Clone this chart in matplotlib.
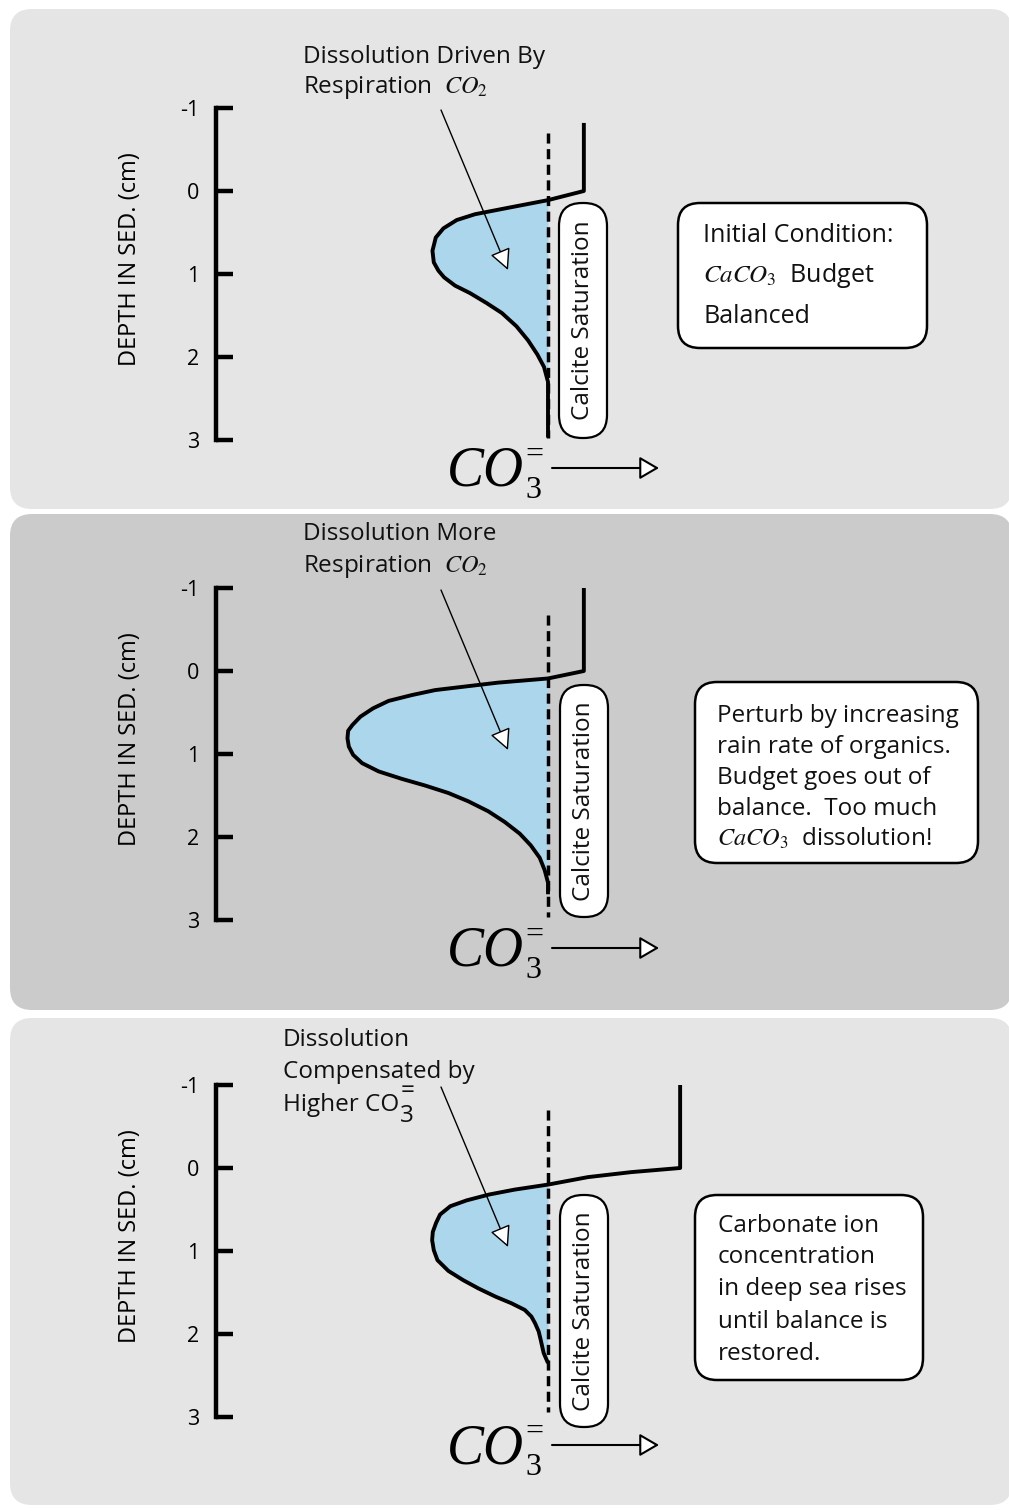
"""Carbonate ion profiles in sediment: initial, perturbed and compensated states."""

import matplotlib
matplotlib.use("Agg")
import matplotlib.pyplot as plt
from matplotlib.patches import FancyArrowPatch, FancyBboxPatch
import numpy as np

plt.rcParams["font.family"] = ["Open Sans", "DejaVu Sans"]
plt.rcParams["mathtext.fontset"] = "stix"

W, H = 1009, 1511
X0_PX, PX_PER_UNIT, PX_PER_CM = 216, 332, 83

DEPTH_TICKS = [-1, 0, 1, 2, 3]
DEPTH_LABELS = ["-1", "0", "1", "2", "3"]
SATURATION = 1.0

# CO3= concentration (saturation = 1) against depth in sediment (cm)
P1_CONC = [1.108, 1.108, 1.0, 0.87, 0.78, 0.725, 0.685, 0.662, 0.652, 0.656, 0.670,
           0.687, 0.72, 0.765, 0.815, 0.861, 0.905, 0.94, 0.968, 0.988, 1.0, 1.0]
P1_DEPTH = [-0.82, 0.0, 0.11, 0.21, 0.28, 0.35, 0.45, 0.56, 0.72, 0.86, 0.96,
            1.04, 1.14, 1.23, 1.35, 1.47, 1.63, 1.80, 1.97, 2.12, 2.30, 2.97]

P2_CONC = [1.108, 1.108, 1.0, 0.85, 0.744, 0.66, 0.59, 0.52, 0.473, 0.435, 0.411, 0.398,
           0.396, 0.40, 0.413, 0.44, 0.49, 0.56, 0.63, 0.70, 0.76, 0.82, 0.87,
           0.915, 0.948, 0.975, 0.99, 1.0, 1.0]
P2_DEPTH = [-1.0, 0.0, 0.09, 0.14, 0.19, 0.23, 0.29, 0.36, 0.45, 0.55, 0.65, 0.72,
            0.81, 0.91, 1.01, 1.11, 1.21, 1.30, 1.38, 1.47, 1.57, 1.69, 1.82,
            1.96, 2.10, 2.25, 2.40, 2.55, 2.69]

P3_CONC = [1.398, 1.398, 1.25, 1.12, 1.0, 0.90, 0.822, 0.755, 0.706, 0.675, 0.663, 0.653,
           0.651, 0.656, 0.667, 0.70, 0.744, 0.79, 0.842, 0.89, 0.93, 0.95, 0.961, 0.972,
           0.978, 0.983, 0.987, 1.0]
P3_DEPTH = [-1.0, 0.0, 0.05, 0.11, 0.20, 0.26, 0.32, 0.39, 0.46, 0.56, 0.66, 0.77,
            0.87, 0.99, 1.11, 1.24, 1.35, 1.45, 1.55, 1.63, 1.71, 1.79, 1.87, 1.97,
            2.07, 2.16, 2.23, 2.35]

SAT_TOP = [-0.70, -0.67, -0.70]
SAT_BOTTOM = [2.97, 2.96, 2.94]

TOP_TEXT = [
    ["Dissolution Driven By", "Respiration  $CO_2$"],
    ["Dissolution More", "Respiration  $CO_2$"],
    ["Dissolution", "Compensated by", "Higher CO"],
]
BOX_TEXT = [
    ["Initial Condition:", "$CaCO_3$  Budget", "Balanced"],
    ["Perturb by increasing", "rain rate of organics.", "Budget goes out of",
     "balance.  Too much", "$CaCO_3$  dissolution!"],
    ["Carbonate ion", "concentration", "in deep sea rises", "until balance is", "restored."],
]

# layout (pixels)
PANELS = [
    dict(top=9, bottom=509, zero=191, color="#e5e5e5", text_x=303, text_y=[63, 93],
         box=(678, 203, 249, 145), box_x=703, box_y=[242, 282, 323], box_fs=18,
         pill=(559, 203, 48, 235)),
    dict(top=514, bottom=1010, zero=671, color="#cbcbcb", text_x=303, text_y=[540, 572],
         box=(695, 682, 283, 181), box_x=717, box_y=[722, 753, 784, 815, 846], box_fs=17.5,
         pill=(560, 685, 48, 232)),
    dict(top=1018, bottom=1505, zero=1168, color="#e5e5e5", text_x=283, text_y=[1046, 1078, 1111],
         box=(695, 1195, 228, 185), box_x=718, box_y=[1232, 1263, 1295, 1328, 1360], box_fs=17.5,
         pill=(560, 1195, 48, 232)),
]
PROFILES = [(P1_CONC, P1_DEPTH), (P2_CONC, P2_DEPTH), (P3_CONC, P3_DEPTH)]
SERIF = "Liberation Serif"

fig = plt.figure(figsize=(W / 100, H / 100), dpi=100)
fig.patch.set_facecolor("white")

bg = fig.add_axes([0, 0, 1, 1])
bg.set_xlim(0, W)
bg.set_ylim(H, 0)
bg.axis("off")
for p in PANELS:
    bg.add_patch(FancyBboxPatch((10, p["top"]), 1002, p["bottom"] - p["top"],
                                boxstyle="round,pad=0,rounding_size=22",
                                fc=p["color"], ec="none"))

for p, (conc, depth), s_top, s_bot in zip(PANELS, PROFILES, SAT_TOP, SAT_BOTTOM):
    ax = fig.add_axes([0, 1 - p["bottom"] / H, 1, (p["bottom"] - p["top"]) / H])
    ax.patch.set_alpha(0)
    ax.set_xlim(-X0_PX / PX_PER_UNIT, (W - X0_PX) / PX_PER_UNIT)
    ax.set_ylim((p["bottom"] - p["zero"]) / PX_PER_CM, (p["top"] - p["zero"]) / PX_PER_CM)
    conc = np.array(conc)
    depth = np.array(depth)
    ax.fill_betweenx(depth, conc, SATURATION, where=conc <= SATURATION, interpolate=True,
                     color="#acd6eb", lw=0, zorder=1)
    ax.plot([SATURATION, SATURATION], [s_top, s_bot], color="black", lw=2.5,
            dashes=(2.9, 1.6), zorder=2)
    ax.plot(conc, depth, color="black", lw=2.8, solid_joinstyle="round",
            solid_capstyle="butt", zorder=3)

    for side in ("top", "right", "bottom"):
        ax.spines[side].set_visible(False)
    ax.spines["left"].set_position(("data", 0))
    ax.spines["left"].set_bounds(-1, 3)
    ax.spines["left"].set_linewidth(3.2)
    ax.spines["left"].set_capstyle("projecting")
    ax.set_xticks([])
    ax.set_yticks(DEPTH_TICKS, DEPTH_LABELS)
    ax.tick_params(axis="y", direction="in", length=12, width=3.2, pad=12, labelsize=15.5)
    ax.text(-86 / PX_PER_UNIT, 68 / PX_PER_CM, "DEPTH IN SED. (cm)",
            rotation=90, ha="center", va="center", fontsize=17)

ov = fig.add_axes([0, 0, 1, 1])
ov.patch.set_alpha(0)
ov.set_xlim(0, W)
ov.set_ylim(H, 0)
ov.axis("off")
renderer = fig.canvas.get_renderer()


def right_edge(text):
    return ov.transData.inverted().transform(text.get_window_extent(renderer))[1, 0]


for i, (p, lines, box_lines) in enumerate(zip(PANELS, TOP_TEXT, BOX_TEXT)):
    z = p["zero"]
    for line, y in zip(lines, p["text_y"]):
        t = ov.text(p["text_x"], y, line, fontsize=17.5, va="baseline", ha="left",
                    color="#111111")
    if i == 2:
        # "=" stacked over subscript "3" after "Higher CO"
        ov.text(right_edge(t) + 1, p["text_y"][-1] + 11, "=\n3", fontsize=17.5,
                linespacing=1.04, va="baseline", ha="left", multialignment="left",
                color="#111111")
    ov.add_patch(FancyArrowPatch((441, z - 81), (508, z + 79),
                                 arrowstyle="-|>,head_length=13,head_width=6.5",
                                 mutation_scale=1, lw=1.0, fc="white", ec="black",
                                 shrinkA=0, shrinkB=0, zorder=5))
    bx, by, bw, bh = p["box"]
    ov.add_patch(FancyBboxPatch((bx, by), bw, bh, boxstyle="round,pad=0,rounding_size=22",
                                fc="white", ec="black", lw=1.8))
    for line, y in zip(box_lines, p["box_y"]):
        ov.text(p["box_x"], y, line, fontsize=p["box_fs"], va="baseline", ha="left",
                color="#111111")
    px, py, pw, ph = p["pill"]
    ov.add_patch(FancyBboxPatch((px, py), pw, ph, boxstyle="round,pad=0,rounding_size=23",
                                fc="white", ec="black", lw=1.6))
    ov.text(px + pw / 2, py + ph / 2, "Calcite Saturation", rotation=90, ha="center",
            va="center", fontsize=17.5, color="#111111")
    # CO3= axis label
    co = ov.text(447, z + 295, "CO", fontfamily=SERIF, style="italic", fontsize=40,
                 va="baseline", ha="left")
    ov.text(right_edge(co) + 1, z + 307, "=\n3", fontfamily=SERIF, fontsize=23,
            linespacing=1.3, va="baseline", ha="left", multialignment="left")
    ov.add_patch(FancyArrowPatch((552, z + 277), (659, z + 277),
                                 arrowstyle="-|>,head_length=12,head_width=7",
                                 mutation_scale=1, lw=1.5, fc="white", ec="black",
                                 shrinkA=0, shrinkB=0))

fig.savefig("out.png", dpi=100, facecolor="white")
